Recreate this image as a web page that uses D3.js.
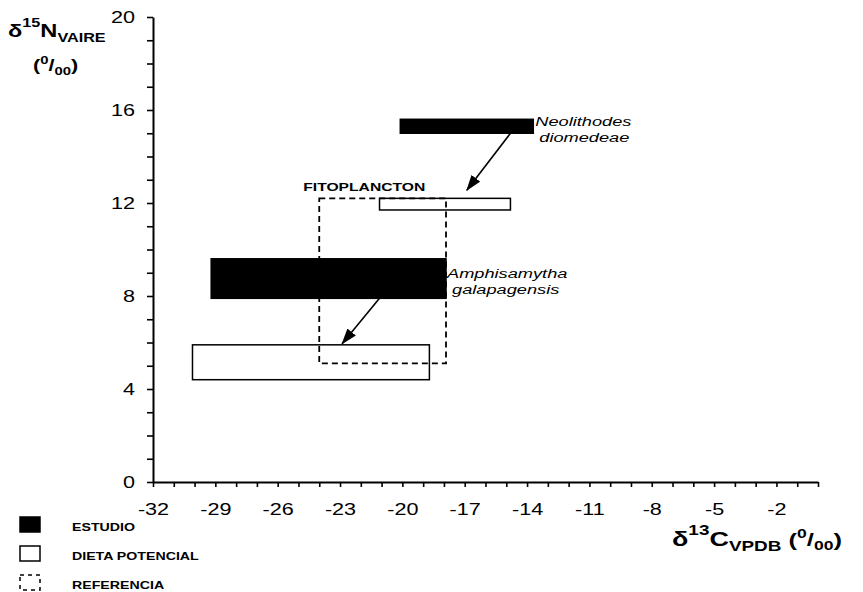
<!DOCTYPE html>
<html>
<head>
<meta charset="utf-8">
<script src="https://cdn.jsdelivr.net/npm/d3@7"></script>
<style>
  body { margin: 0; background: #fff; }
  svg text { font-family: Arial, "Liberation Sans", Helvetica, sans-serif; fill: #000; }
</style>
</head>
<body>
<div id="chart"></div>
<script>
// isotope ranges, one entry per box
const boxNames = ["Neolithodes diomedeae", "Amphisamytha galapagensis", "Dieta N. diomedeae", "Dieta A. galapagensis", "Fitoplancton"];
const boxTypes = ["estudio", "estudio", "dieta", "dieta", "referencia"];
const c13Min = [-20.1, -29.2, -21.1, -30.1, -24.0];
const c13Max = [-13.7, -17.9, -14.8, -18.7, -17.9];
const n15Min = [15.0, 7.9, 11.7, 4.4, 5.1];
const n15Max = [15.6, 9.6, 12.2, 5.9, 12.2];

// arrows from each species to its potential diet
const arrowStart = [[-14.8, 15.0], [-21.1, 7.9]];
const arrowEnd = [[-16.9, 12.55], [-22.9, 5.95]];

const xTicks = d3.range(-32, 1, 1);
const xLabels = [-32, -29, -26, -23, -20, -17, -14, -11, -8, -5, -2];
const yTicks = d3.range(0, 21, 1);
const yLabels = [0, 4, 8, 12, 16, 20];

const legendLabels = ["ESTUDIO", "DIETA POTENCIAL", "REFERENCIA"];

// the scanned original is stretched horizontally
const SX = 1.35;

const width = 863, height = 592;

const svg = d3.select('#chart').append('svg')
  .attr('width', width)
  .attr('height', height);

const x = d3.scaleLinear().domain([-32, 0]).range([153, 818]);
const y = d3.scaleLinear().domain([0, 20]).range([482, 17]);

svg.append('defs').append('marker')
  .attr('id', 'head')
  .attr('viewBox', '0 0 16 11')
  .attr('refX', 15)
  .attr('refY', 5.5)
  .attr('markerWidth', 16)
  .attr('markerHeight', 11)
  .attr('markerUnits', 'userSpaceOnUse')
  .attr('orient', 'auto')
  .append('path')
    .attr('d', 'M0,0 L16,5.5 L0,11 Z')
    .attr('fill', '#000');

// axes
const xAxis = svg.append('g')
  .attr('transform', 'translate(0,' + y(0) + ')')
  .call(d3.axisBottom(x).tickValues(xTicks).tickSize(5).tickSizeOuter(0)
    .tickFormat(d => xLabels.includes(d) ? d : ''));

const yAxis = svg.append('g')
  .attr('transform', 'translate(' + x(-32) + ',0)')
  .call(d3.axisLeft(y).tickValues(yTicks).tickSize(6).tickSizeOuter(0)
    .tickFormat(d => yLabels.includes(d) ? d : ''));

[xAxis, yAxis].forEach(g => {
  g.select('.domain').attr('stroke-width', 2);
  g.selectAll('.tick line').attr('stroke-width', 1.6);
  g.selectAll('text').attr('font-size', 16).attr('font-family', null);
});

xAxis.selectAll('text')
  .attr('y', 0).attr('dy', 0)
  .attr('transform', 'translate(0,33) scale(' + SX + ',1)');

yAxis.selectAll('text')
  .attr('x', 0)
  .attr('transform', 'translate(-18,0) scale(' + SX + ',1)');

// boxes
const idx = d3.range(boxNames.length);
svg.append('g').selectAll('rect')
  .data(idx)
  .join('rect')
    .attr('x', i => x(c13Min[i]))
    .attr('y', i => y(n15Max[i]))
    .attr('width', i => x(c13Max[i]) - x(c13Min[i]))
    .attr('height', i => y(n15Min[i]) - y(n15Max[i]))
    .attr('fill', i => boxTypes[i] === 'estudio' ? '#000' : 'none')
    .attr('stroke', '#000')
    .attr('stroke-width', i => boxTypes[i] === 'referencia' ? 1.8 : 1.5)
    .attr('stroke-dasharray', i => boxTypes[i] === 'referencia' ? '6,4' : null);

// arrows
svg.append('g').selectAll('line')
  .data(arrowStart)
  .join('line')
    .attr('x1', d => x(d[0]))
    .attr('y1', d => y(d[1]))
    .attr('x2', (d, i) => x(arrowEnd[i][0]))
    .attr('y2', (d, i) => y(arrowEnd[i][1]))
    .attr('stroke', '#000')
    .attr('stroke-width', 1.6)
    .attr('marker-end', 'url(#head)');

function label(tx, ty, str, size, weight, style) {
  return svg.append('text')
    .attr('transform', 'translate(' + tx + ',' + ty + ') scale(' + SX + ',1)')
    .attr('font-size', size)
    .attr('font-weight', weight || 'normal')
    .attr('font-style', style || 'normal')
    .text(str);
}

// species names
label(x(c13Max[0]) + 2, y(n15Max[0]) + 7, 'Neolithodes', 13.5, 'normal', 'italic');
label(x(c13Max[0]) + 6, y(n15Max[0]) + 23, 'diomedeae', 13.5, 'normal', 'italic');
label(x(c13Max[1]) + 1, y(n15Max[1]) + 19, 'Amphisamytha', 13.5, 'normal', 'italic');
label(x(c13Max[1]) + 6, y(n15Max[1]) + 35, 'galapagensis', 13.5, 'normal', 'italic');
label(x(c13Min[4]) - 16, y(n15Max[4]) - 7, 'FITOPLANCTON', 11.6, 'bold');

// axis titles
const yTitle = svg.append('text')
  .attr('transform', 'translate(8,37) scale(' + SX + ',1)')
  .attr('font-weight', 'bold');
yTitle.append('tspan').attr('font-size', 17.5).text('δ');
yTitle.append('tspan').attr('font-size', 12).attr('dy', -10).text('15');
yTitle.append('tspan').attr('font-size', 17.5).attr('dy', 10).text('N');
yTitle.append('tspan').attr('font-size', 12).attr('dy', 5).text('VAIRE');

const yUnit = svg.append('text')
  .attr('transform', 'translate(33,71) scale(' + SX + ',1)')
  .attr('font-weight', 'bold');
yUnit.append('tspan').attr('font-size', 16).text('(');
yUnit.append('tspan').attr('font-size', 11).attr('dy', -7).text('0');
yUnit.append('tspan').attr('font-size', 16).attr('dy', 7).text('/');
yUnit.append('tspan').attr('font-size', 11).attr('dy', 4).text('00');
yUnit.append('tspan').attr('font-size', 16).attr('dy', -4).text(')');

const xTitle = svg.append('text')
  .attr('transform', 'translate(672,546) scale(' + SX + ',1)')
  .attr('font-weight', 'bold');
xTitle.append('tspan').attr('font-size', 20).text('δ');
xTitle.append('tspan').attr('font-size', 14).attr('dy', -11).text('13');
xTitle.append('tspan').attr('font-size', 20).attr('dy', 11).text('C');
xTitle.append('tspan').attr('font-size', 14).attr('dy', 5).text('VPDB');
xTitle.append('tspan').attr('font-size', 19).attr('dy', -5).text(' (');
xTitle.append('tspan').attr('font-size', 13).attr('dy', -8).text('0');
xTitle.append('tspan').attr('font-size', 19).attr('dy', 8).text('/');
xTitle.append('tspan').attr('font-size', 13).attr('dy', 4).text('00');
xTitle.append('tspan').attr('font-size', 19).attr('dy', -4).text(')');

// legend
const legend = svg.append('g').attr('transform', 'translate(20,517)');
const legendRows = legend.selectAll('g')
  .data(legendLabels)
  .join('g')
    .attr('transform', (d, i) => 'translate(0,' + (i * 29) + ')');

legendRows.append('rect')
  .attr('width', 20)
  .attr('height', 15)
  .attr('fill', (d, i) => i === 0 ? '#000' : 'none')
  .attr('stroke', '#000')
  .attr('stroke-width', 1.5)
  .attr('stroke-dasharray', (d, i) => i === 2 ? '4,4' : null);

legendRows.append('text')
  .attr('transform', 'translate(52,14) scale(' + SX + ',1)')
  .attr('font-size', 10.5)
  .attr('font-weight', 'bold')
  .text(d => d);
</script>
</body>
</html>
